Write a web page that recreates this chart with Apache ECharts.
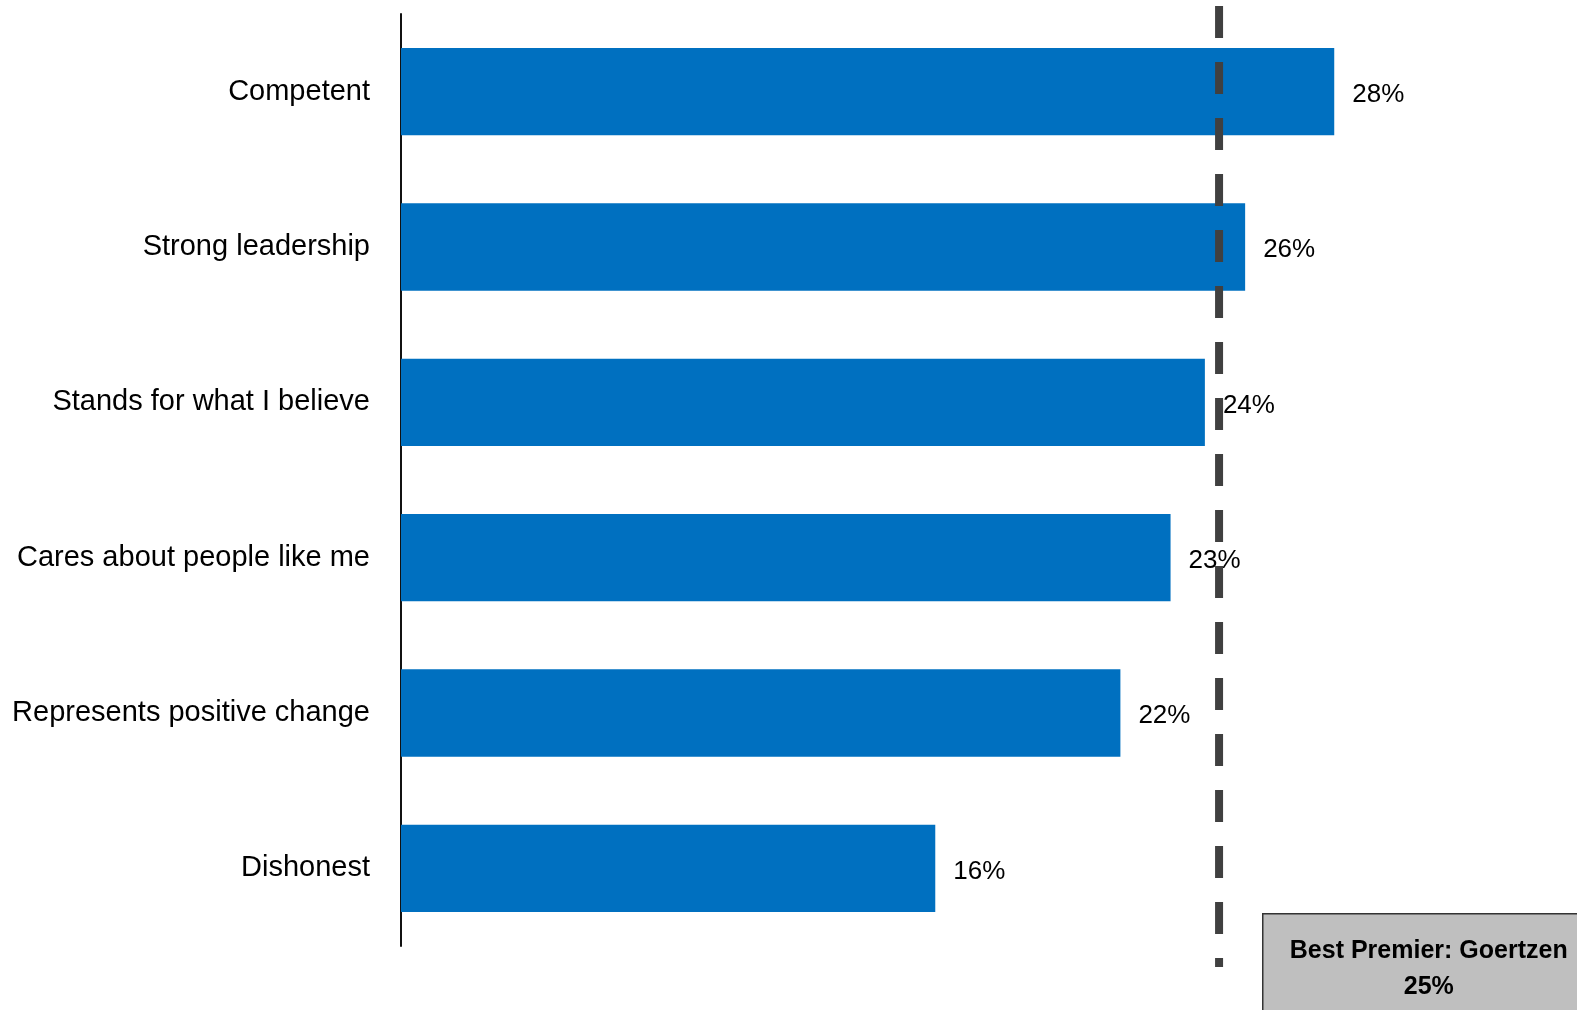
<!DOCTYPE html>
<html>
<head>
<meta charset="utf-8">
<script src="https://cdn.jsdelivr.net/npm/echarts@6/dist/echarts.min.js"></script>
<style>html,body{margin:0;padding:0;background:#fff;}#chart{width:1577px;height:1010px;}</style>
</head>
<body>
<div id="chart"></div>
<script>
const categories = ['Competent', 'Strong leadership', 'Stands for what I believe', 'Cares about people like me', 'Represents positive change', 'Dishonest'];
const values = [28.28, 25.58, 24.36, 23.32, 21.8, 16.19];
const benchmarkValue = 24.79;
const benchmarkLabel = ['Best Premier: Goertzen', '25%'];

const chart = echarts.init(document.getElementById('chart'));
const FONT = '"Liberation Sans", Arial, sans-serif';
const XMAX = 35;
chart.setOption({
  animation: false,
  grid: [
    { left: 401, width: 1155, top: 14, height: 932 },
    { left: 401, width: 1155, top: 6, height: 961 }
  ],
  xAxis: [
    { type: 'value', gridIndex: 0, min: 0, max: XMAX, show: false },
    { type: 'value', gridIndex: 1, min: 0, max: XMAX, show: false }
  ],
  yAxis: [
    {
      type: 'category', gridIndex: 0, data: categories, inverse: true,
      axisLine: { show: true, lineStyle: { color: '#111', width: 2 } },
      axisTick: { show: false },
      axisLabel: { color: '#000', fontSize: 29, fontFamily: FONT, margin: 31, padding: [4, 0, 0, 0] }
    },
    { type: 'value', gridIndex: 1, min: 0, max: 1, show: false }
  ],
  series: [
    {
      type: 'bar', xAxisIndex: 0, yAxisIndex: 0, data: values,
      barCategoryGap: '43.8%',
      itemStyle: { color: '#0070C0' },
      label: {
        show: true, position: 'right', distance: 18, offset: [0, 3],
        color: '#000', fontSize: 26, fontFamily: FONT,
        formatter: p => Math.round(p.value) + '%'
      },
      z: 2
    },
    {
      type: 'line', xAxisIndex: 1, yAxisIndex: 1,
      data: [[benchmarkValue, 1], [benchmarkValue, 0]],
      symbol: 'none',
      lineStyle: { color: '#404040', width: 8, type: [32, 24], cap: 'butt' },
      z: 3
    }
  ],
  graphic: [
    {
      type: 'group', left: 1262, top: 913,
      children: [
        { type: 'rect', shape: { x: 0, y: 0, width: 340, height: 120 }, style: { fill: '#BFBFBF', stroke: '#333', lineWidth: 1.5 } },
        { type: 'text', x: 166, y: 55, style: { text: benchmarkLabel.join('\n'), fontSize: 25, fontWeight: 'bold', fontFamily: FONT, fill: '#000', align: 'center', verticalAlign: 'middle', lineHeight: 36 } }
      ]
    }
  ]
});
</script>
</body>
</html>
